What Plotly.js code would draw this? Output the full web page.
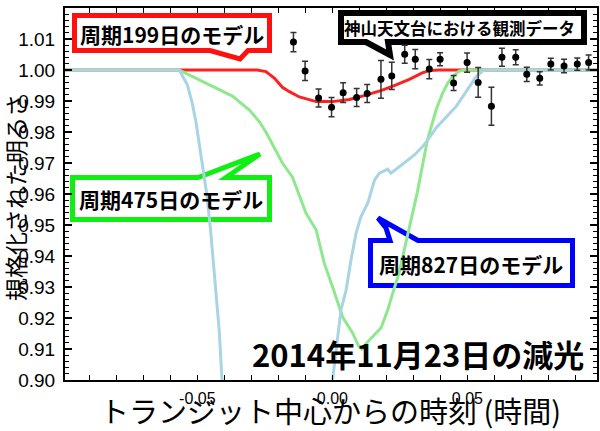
<!DOCTYPE html>
<html>
<head>
<meta charset="utf-8">
<script src="https://cdn.plot.ly/plotly-3.0.1.min.js"></script>
<style>html,body{margin:0;padding:0;background:#fff;}#chart{width:600px;height:431px;}</style>
</head>
<body>
<div id="chart"></div>
<script>
// Observed data (Kamiyama observatory)
const obsX = [-0.0144,-0.0101,-0.0051,-0.0003,0.0040,0.0090,0.0129,0.0180,0.0220,0.0268,0.0307,0.0359,0.0399,0.0449,0.0499,0.0540,0.0589,0.0628,0.0679,0.0720,0.0768,0.0809,0.0858,0.0907,0.0949];
const obsY = [1.0090,0.9997,0.9910,0.9880,0.9927,0.9911,0.9924,0.9970,0.9981,1.0051,1.0035,1.0003,1.0035,0.9958,1.0024,0.9960,0.9883,1.0041,1.0041,0.9986,0.9973,1.0019,1.0013,1.0019,1.0024];
const obsErr = [0.0031,0.0031,0.0029,0.0031,0.0032,0.0029,0.0029,0.0061,0.0044,0.0029,0.0031,0.0031,0.0021,0.0024,0.0031,0.0048,0.0061,0.0029,0.0024,0.0023,0.0021,0.0019,0.0022,0.0020,0.0024];

// Model: period 199 days
const redX = [-0.099,-0.0278,-0.0246,-0.0215,-0.0185,-0.0159,-0.0122,-0.0060,0.0000,0.0063,0.0125,0.0185,0.0236,0.0285,0.0333,0.0359,0.0396,0.098];
const redY = [1.000,1.000,0.9995,0.9974,0.9944,0.9930,0.9913,0.9898,0.9898,0.9905,0.9919,0.9935,0.9952,0.9970,0.9991,0.9998,1.000,1.000];

// Model: period 475 days
const greenX = [-0.099,-0.0567,-0.0493,-0.0431,-0.0370,-0.0307,-0.0270,-0.0244,-0.0185,-0.0148,-0.0122,-0.0098,-0.0060,-0.0030,0.0001,0.0038,0.0075,0.0097,0.0109,0.0137,0.0180,0.0205,0.0224,0.0247,0.0272,0.0296,0.0314,0.0352,0.0384,0.0408,0.0427,0.0445,0.0470,0.0494,0.098];
const greenY = [1.000,1.000,0.9968,0.9941,0.9916,0.9871,0.9833,0.9797,0.9700,0.9655,0.9597,0.9539,0.9484,0.9377,0.9300,0.9203,0.9152,0.9110,0.9100,0.9129,0.9168,0.9226,0.9281,0.9345,0.9442,0.9539,0.9603,0.9774,0.9871,0.9925,0.9957,0.9978,0.9997,1.000,1.000];

// Model: period 827 days
const blueX = [-0.099,-0.0567,-0.0537,-0.0519,-0.0505,-0.0489,-0.0475,-0.0464,-0.0451,-0.0438,-0.0430,-0.0419,-0.0409,-0.0400,-0.0005,0.0001,0.0014,0.0032,0.0051,0.0069,0.0088,0.0106,0.0131,0.0156,0.0174,0.0205,0.0217,0.0248,0.0273,0.0304,0.0334,0.0353,0.0384,0.0421,0.0458,0.0483,0.0507,0.0532,0.0557,0.0569,0.098];
const blueY = [1.000,1.000,0.9952,0.9894,0.9832,0.9742,0.9661,0.9594,0.9484,0.9355,0.9258,0.9161,0.9006,0.8970,0.8970,0.9000,0.9097,0.9226,0.9290,0.9387,0.9474,0.9527,0.9570,0.9645,0.9667,0.9680,0.9667,0.9688,0.9707,0.9726,0.9753,0.9774,0.9813,0.9849,0.9882,0.9914,0.9946,0.9978,0.9997,1.000,1.000];

// Tick labels
const xTickVals = [-0.05, 0.00, 0.05];
const xTickText = ['-0.05', '0.00', '0.05'];
const yTickVals = [0.90,0.91,0.92,0.93,0.94,0.95,0.96,0.97,0.98,0.99,1.00,1.01,1.02];
const yTickText = ['0.90','0.91','0.92','0.93','0.94','0.95','0.96','0.97','0.98','0.99','1.00','1.01','1.02'];

// Texts
const labelRed = '周期199日のモデル';
const labelGreen = '周期475日のモデル';
const labelBlue = '周期827日のモデル';
const labelObs = '神山天文台における観測データ';
const labelDate = '2014年11月23日の減光';
const xTitle = 'トランジット中心からの時刻 (時間)';
const yTitle = '規格化された明るさ';

// layout geometry (pixels)
const L = 65, T = 8, W = 532, H = 372;
const px = (x) => (x - L) / W;
const py = (y) => (T + H - y) / H;
function pathFrom(pts) {
  return pts.map((p, i) => (i ? 'L' : 'M') + px(p[0]).toFixed(5) + ',' + py(p[1]).toFixed(5)).join(' ') + ' Z';
}
function callout(pts, color, w) {
  return {type: 'path', xref: 'paper', yref: 'paper', path: pathFrom(pts),
          fillcolor: 'rgba(255,255,255,1)', line: {color: color, width: w}, layer: 'below'};
}
const shapes = [
  callout([[74.5,15.5],[269.5,15.5],[269.5,50.5],[248,50.5],[240,59],[210,50.5],[74.5,50.5]], '#ff1010', 5),
  callout([[341,13],[584,13],[584,42],[388,42],[390,55],[366,42],[341,42]], '#000000', 6),
  callout([[72.5,177.5],[198,177.5],[260,154],[226,177.5],[269.5,177.5],[269.5,219.5],[72.5,219.5]], '#11ee11', 5),
  callout([[370.5,240.5],[390,240.5],[386,228],[378,218],[418,240.5],[572.5,240.5],[572.5,285.5],[370.5,285.5]], '#0000ff', 5)
];
const jp = 'Noto Sans CJK JP, sans-serif';
function ann(text, x, y, size, weight, extra) {
  return Object.assign({text: text, xref: 'paper', yref: 'paper', x: px(x), y: py(y),
    xanchor: 'center', yanchor: 'middle', showarrow: false,
    font: {family: jp, size: size, color: '#000', weight: weight}}, extra || {});
}
const annotations = [
  ann(labelRed, 172, 34, 21, 700),
  ann(labelObs, 460, 28, 16.5, 700),
  ann(labelGreen, 171, 199, 21, 700),
  ann(labelBlue, 471, 264, 21, 700),
  ann(labelDate, 418, 353, 31, 700),
  ann(xTitle, 330, 410, 29, 400),
  ann(yTitle, 15, 198, 23, 400, {textangle: -90, borderpad: 0})
];

const traces = [
  {x: redX, y: redY, type: 'scatter', mode: 'lines', line: {color: '#ff2020', width: 3}, hoverinfo: 'skip'},
  {x: greenX, y: greenY, type: 'scatter', mode: 'lines', line: {color: '#8ee88e', width: 3}, hoverinfo: 'skip'},
  {x: blueX, y: blueY, type: 'scatter', mode: 'lines', line: {color: '#a8d4e4', width: 3}, hoverinfo: 'skip'},
  {x: obsX, y: obsY, type: 'scatter', mode: 'markers', marker: {color: '#000', size: 7},
   error_y: {type: 'data', array: obsErr, visible: true, color: '#333', thickness: 1.5, width: 3}}
];

const layout = {
  width: 600, height: 431,
  margin: {l: L, r: 600 - L - W, t: T, b: 431 - T - H, pad: 0},
  paper_bgcolor: '#fff', plot_bgcolor: '#fff',
  showlegend: false,
  xaxis: {range: [-0.099, 0.098], tickmode: 'array', tickvals: xTickVals, ticktext: xTickText,
    ticks: 'inside', ticklen: 5, tickwidth: 1.5, tickcolor: '#000',
    minor: {dtick: 0.01, ticks: 'inside', ticklen: 5, tickwidth: 1.5, tickcolor: '#000'},
    showline: true, linecolor: '#000', linewidth: 2, mirror: 'allticks', showgrid: false, zeroline: false,
    tickfont: {family: 'Liberation Sans, Arial, sans-serif', size: 16, color: '#000'}, ticklabelstandoff: 3},
  yaxis: {range: [0.90, 1.02], tickmode: 'array', tickvals: yTickVals, ticktext: yTickText,
    ticks: 'inside', ticklen: 7, tickwidth: 1.5, tickcolor: '#000',
    minor: {dtick: 0.002, ticks: 'inside', ticklen: 4, tickwidth: 1, tickcolor: '#000'},
    showline: true, linecolor: '#000', linewidth: 2, mirror: 'allticks', showgrid: false, zeroline: false,
    tickfont: {family: 'Liberation Sans Narrow, Liberation Sans, sans-serif', size: 19, color: '#000'}, ticklabelstandoff: 4},
  shapes: shapes,
  annotations: annotations
};
Plotly.newPlot('chart', traces, layout, {displayModeBar: false, staticPlot: true});
</script>
</body>
</html>
